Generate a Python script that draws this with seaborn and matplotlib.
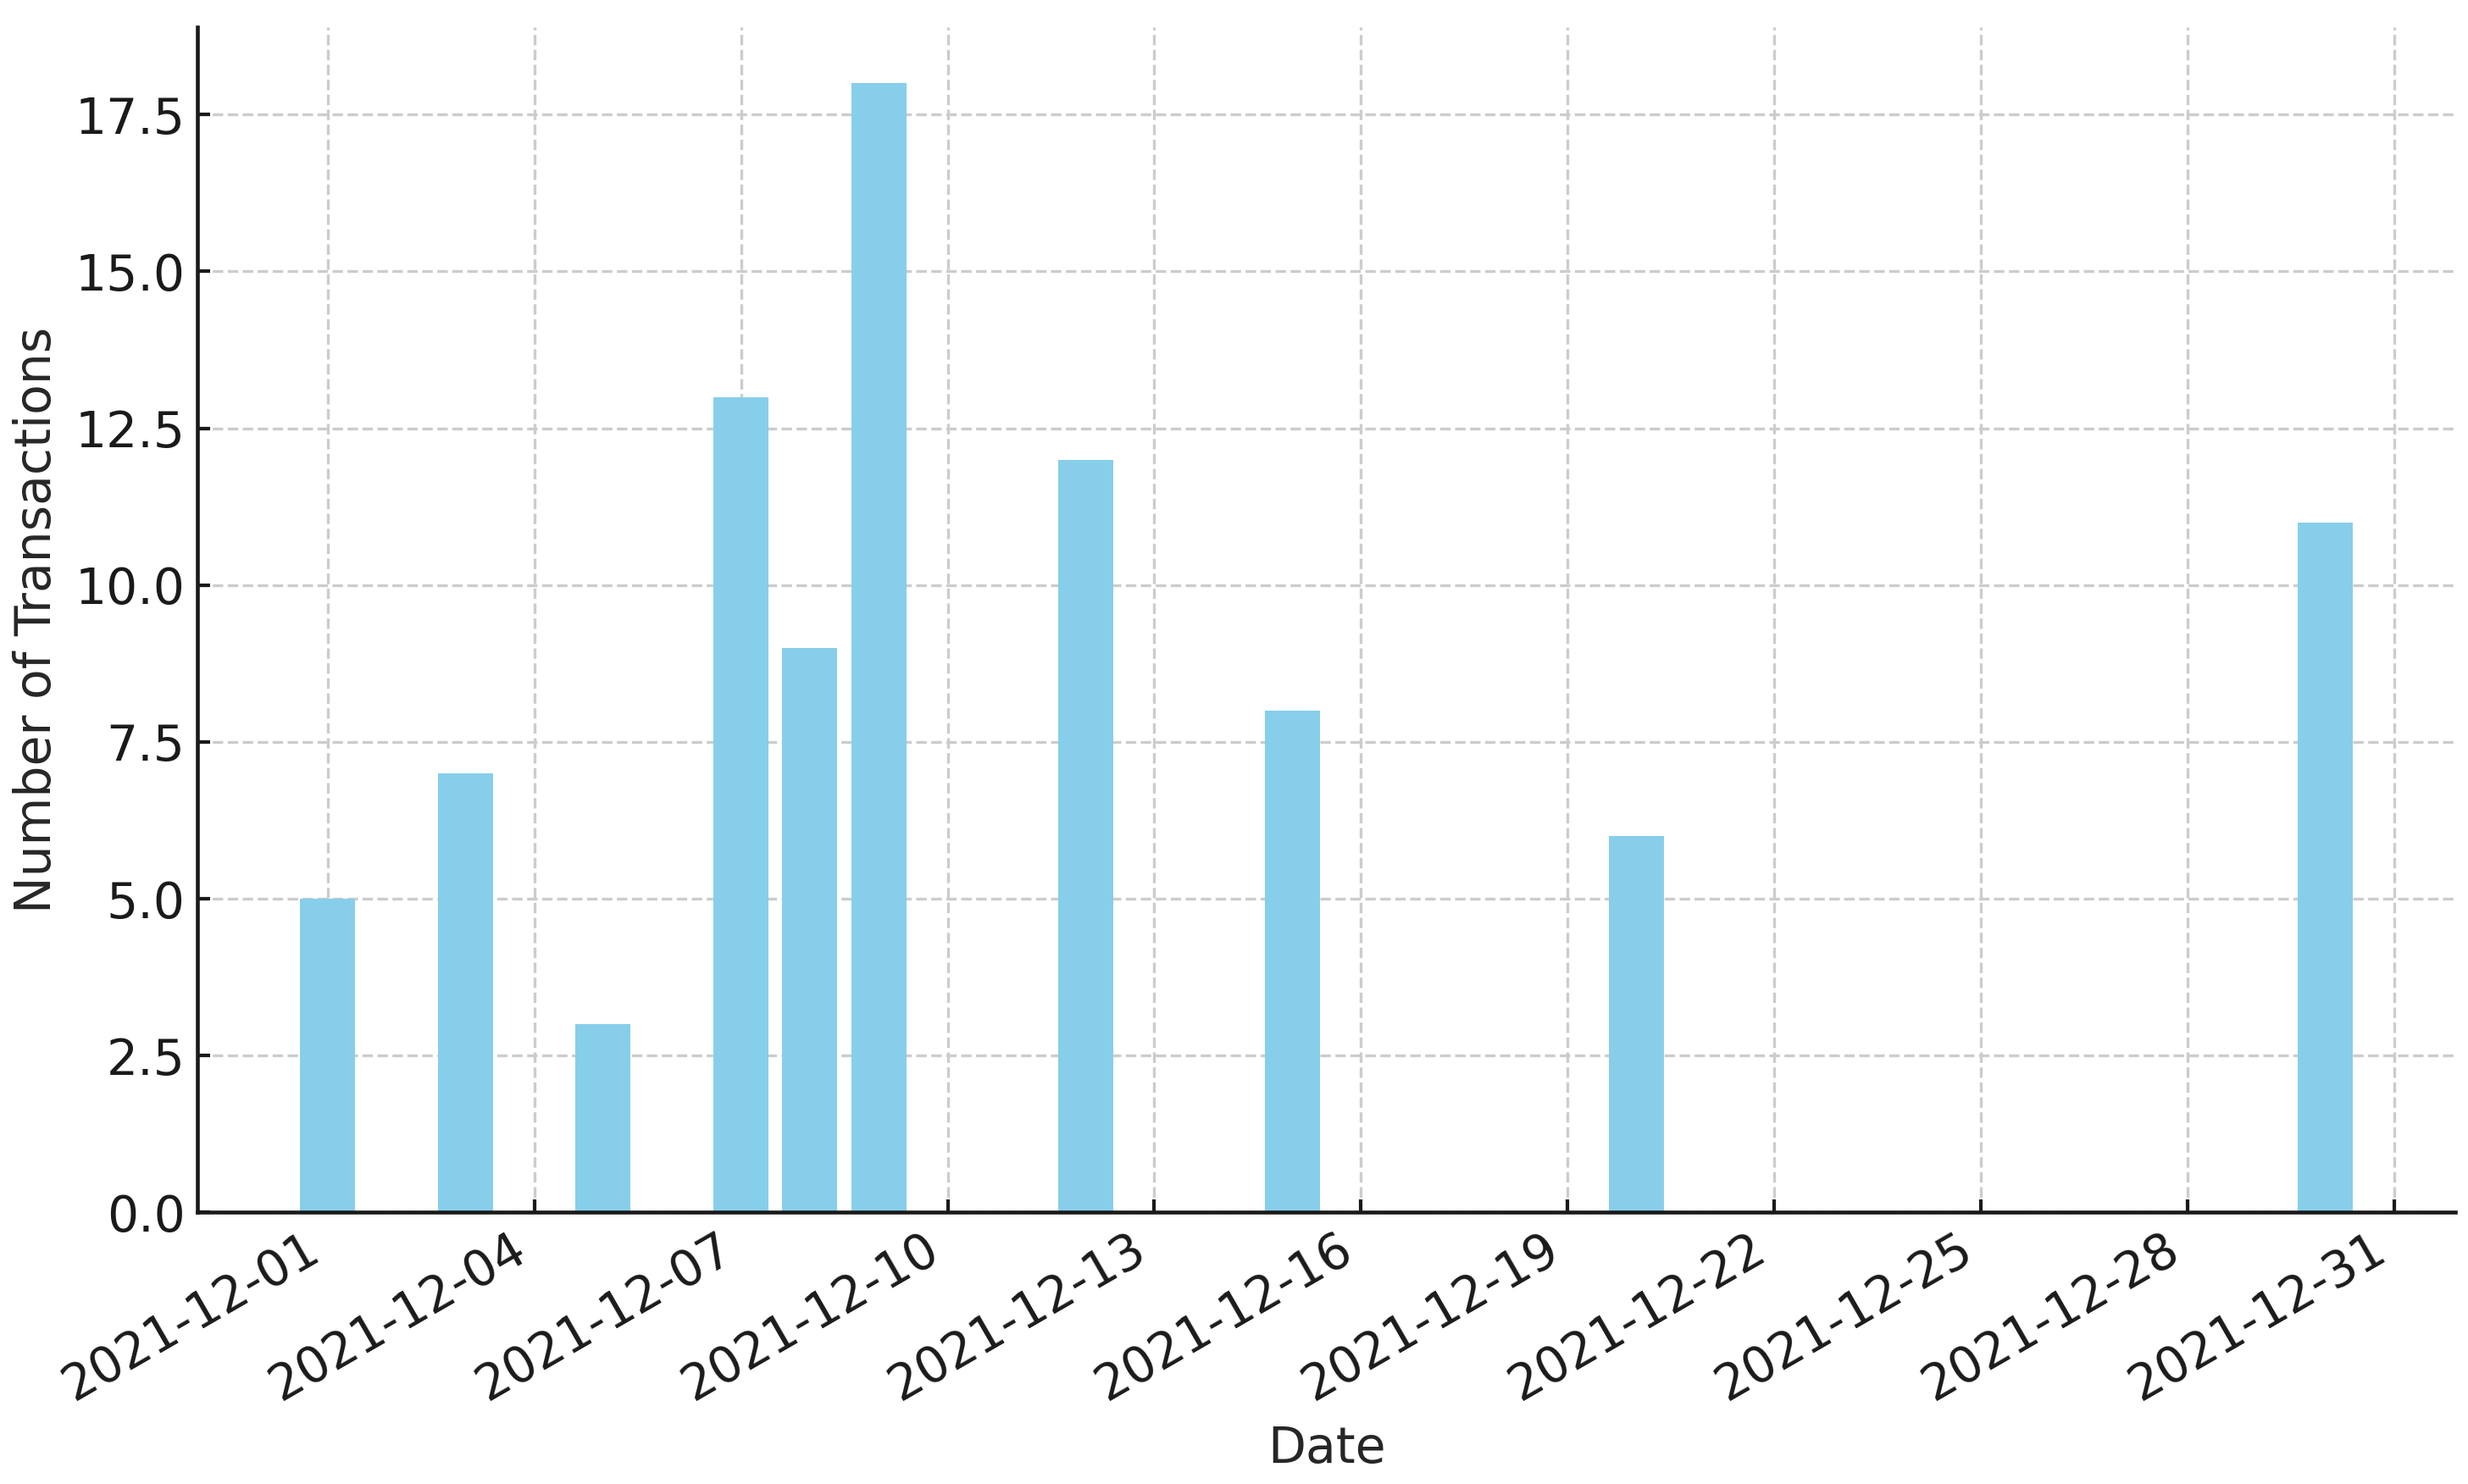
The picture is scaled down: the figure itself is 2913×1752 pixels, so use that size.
import pandas as pd
import matplotlib
matplotlib.use('Agg')
import matplotlib.pyplot as plt
import matplotlib.dates as mdates
import seaborn as sns

# daily transaction counts (only days that had transactions)
dates = ['2021-12-01', '2021-12-03', '2021-12-05', '2021-12-07', '2021-12-08',
         '2021-12-09', '2021-12-12', '2021-12-15', '2021-12-20', '2021-12-30']
counts = [5, 7, 3, 13, 9, 18, 12, 8, 6, 11]

df = pd.DataFrame({'Date': pd.to_datetime(dates), 'Transactions': counts})
df['x'] = mdates.date2num(df['Date'])

sns.set_style('ticks')
plt.rcParams['font.family'] = ['DejaVu Sans']
plt.rcParams['xtick.direction'] = 'in'
plt.rcParams['ytick.direction'] = 'in'

fig = plt.figure(figsize=(2913 / 300, 1752 / 300), dpi=300)
ax = fig.add_axes([0.080, 0.183, 0.915, 0.799])

sns.barplot(data=df, x='x', y='Transactions', native_scale=True, width=0.8,
            color='skyblue', saturation=1, linewidth=0, ax=ax, zorder=2)

ax.xaxis.set_major_locator(mdates.DayLocator(bymonthday=range(1, 32, 3)))
ax.xaxis.set_major_formatter(mdates.DateFormatter('%Y-%m-%d'))
ax.margins(x=0.05, y=0.05)
ax.set_ylim(bottom=0)

ax.grid(True, linestyle='--', color='#cccccc', linewidth=0.8, zorder=0)
ax.set_axisbelow(True)
for s in ['top', 'right']:
    ax.spines[s].set_visible(False)
for s in ['left', 'bottom']:
    ax.spines[s].set_color('#1a1a1a')
    ax.spines[s].set_linewidth(1.1)

plt.setp(ax.get_xticklabels(), rotation=30, ha='right', rotation_mode='default')
ax.tick_params(labelsize=14, colors='#1a1a1a', width=1.0)
ax.set_xlabel('Date', fontsize=14, labelpad=4)
ax.set_ylabel('Number of Transactions', fontsize=14, labelpad=4)

fig.savefig('out.png', dpi=300)
